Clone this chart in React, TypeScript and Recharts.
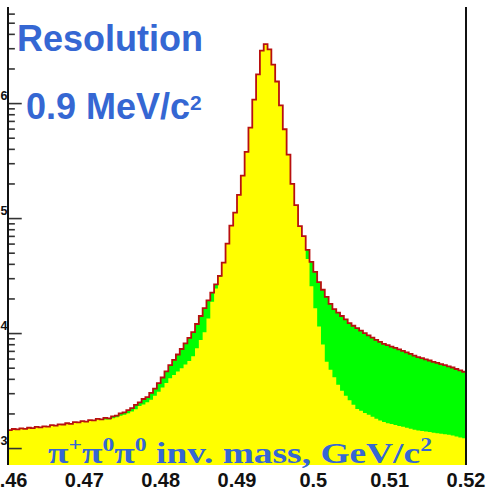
import React from 'react';
import { ComposedChart, Area, Line, XAxis, YAxis, ReferenceLine } from 'recharts';

// Histogram binning (GeV/c^2)
const BIN_START = 0.46;
const BIN_WIDTH = 0.0005;
const X_END = 0.52;

// log10(entries per bin): total (signal + background) — red outline, green fill
const totalLog10 = [
  3.160, 3.170, 3.166, 3.175, 3.172, 3.181, 3.178, 3.188, 3.184, 3.193,
  3.191, 3.203, 3.200, 3.211, 3.209, 3.220, 3.215, 3.229, 3.227, 3.238,
  3.235, 3.247, 3.245, 3.258, 3.254, 3.266, 3.263, 3.280, 3.287, 3.306,
  3.314, 3.335, 3.352, 3.380, 3.402, 3.431, 3.448, 3.485, 3.522, 3.569,
  3.618, 3.671, 3.725, 3.771, 3.818, 3.866, 3.914, 3.963, 4.013, 4.083,
  4.153, 4.221, 4.288, 4.356, 4.427, 4.502, 4.617, 4.783, 4.938, 5.051,
  5.207, 5.373, 5.580, 5.791, 6.035, 6.254, 6.461, 6.518, 6.472, 6.338,
  6.192, 5.985, 5.777, 5.557, 5.302, 5.117, 4.935, 4.847, 4.728, 4.623,
  4.536, 4.448, 4.381, 4.319, 4.258, 4.213, 4.183, 4.153, 4.123, 4.091,
  4.068, 4.047, 4.025, 4.004, 3.984, 3.965, 3.946, 3.928, 3.910, 3.899,
  3.887, 3.875, 3.863, 3.850, 3.837, 3.823, 3.809, 3.796, 3.786, 3.775,
  3.766, 3.754, 3.745, 3.735, 3.725, 3.715, 3.705, 3.692, 3.680, 3.668,
];

// log10(entries per bin): yellow component
const signalLog10 = [
  3.160, 3.170, 3.166, 3.175, 3.172, 3.181, 3.178, 3.188, 3.184, 3.193,
  3.191, 3.203, 3.200, 3.211, 3.209, 3.220, 3.215, 3.229, 3.227, 3.238,
  3.235, 3.247, 3.245, 3.258, 3.248, 3.253, 3.253, 3.264, 3.273, 3.286,
  3.295, 3.306, 3.323, 3.342, 3.370, 3.384, 3.402, 3.425, 3.459, 3.493,
  3.531, 3.570, 3.611, 3.640, 3.670, 3.699, 3.730, 3.762, 3.803, 3.873,
  3.943, 4.012, 4.130, 4.277, 4.392, 4.493, 4.617, 4.783, 4.938, 5.051,
  5.207, 5.373, 5.580, 5.791, 6.035, 6.254, 6.461, 6.518, 6.472, 6.338,
  6.192, 5.985, 5.777, 5.557, 5.302, 5.117, 4.935, 4.840, 4.648, 4.412,
  4.220, 4.062, 3.905, 3.756, 3.686, 3.621, 3.555, 3.503, 3.459, 3.420,
  3.380, 3.345, 3.328, 3.310, 3.293, 3.276, 3.260, 3.244, 3.230, 3.221,
  3.213, 3.205, 3.197, 3.189, 3.180, 3.172, 3.164, 3.158, 3.152, 3.148,
  3.143, 3.138, 3.134, 3.129, 3.124, 3.120, 3.113, 3.105, 3.097, 3.089,
];

const xTickValues = [0.46, 0.47, 0.48, 0.49, 0.5, 0.51, 0.52];
const xTickLabels = ['0.46', '0.47', '0.48', '0.49', '0.5', '0.51', '0.52'];
const yDecades = [3, 4, 5, 6];
const yDomain: [number, number] = [2.857, 6.84];

// tick-mark lengths expressed in x data units (inward from the left axis)
const MAJOR_TICK_LEN = 0.0018;
const MINOR_TICK_LEN = 0.0009;

const BLUE = '#3567d3';
const SANS = '"Liberation Sans", Arial, Helvetica, sans-serif';
const SERIF = '"Liberation Serif", "Times New Roman", Times, serif';

// chart data built from the arrays above
const binEdges = totalLog10.map((_, i) => +(BIN_START + i * BIN_WIDTH).toFixed(4));
const data = totalLog10.map((t, i) => ({ x: binEdges[i], total: t, signal: signalLog10[i] }));
data.push({
  x: X_END,
  total: totalLog10[totalLog10.length - 1],
  signal: signalLog10[signalLog10.length - 1],
});
const outlineData = [
  { x: BIN_START, v: yDomain[0] },
  ...data.map((d) => ({ x: d.x, v: d.total })),
  { x: X_END, v: yDomain[0] },
];

// log-axis tick positions: 2..9 sub-decade ticks above the histogram at the left edge
const yMinorTicks: number[] = [];
for (let e = 3; e <= 6; e++) {
  for (let k = 2; k <= 9; k++) {
    const v = e + Math.log10(k);
    if (v <= yDomain[1] && v > totalLog10[0]) yMinorTicks.push(+v.toFixed(5));
  }
}

const YLabel = (props: any) => {
  const x = Number(props.x);
  const y = Number(props.y);
  return (
    <text x={x - 0.5} y={y - 4} textAnchor="end" fontSize={12.5} fontWeight="bold" fill="#111" fontFamily={SANS}>
      {Math.round(Number(props.payload.value))}
    </text>
  );
};

const XTick = (props: any) => {
  const { x, y, payload } = props;
  const idx = xTickValues.findIndex((t) => Math.abs(t - payload.value) < 1e-9);
  return (
    <text x={x} y={Number(y) + 21.5} textAnchor="middle" fontSize={20} fontWeight="bold" fill="#111" fontFamily={SANS}>
      {idx >= 0 ? xTickLabels[idx] : ''}
    </text>
  );
};

export default function App() {
  return (
    <div style={{ position: 'absolute', left: 0, top: 0, width: 492, height: 495, background: '#fff' }}>
      <ComposedChart width={492} height={495} data={data} margin={{ top: 7, right: 0, bottom: 0, left: 0 }}>
        <XAxis
          dataKey="x"
          type="number"
          domain={[BIN_START, X_END]}
          allowDataOverflow
          ticks={xTickValues}
          interval={0}
          tick={<XTick />}
          tickLine={false}
          tickSize={0}
          tickMargin={0}
          axisLine={false}
          height={30}
        />
        <XAxis
          xAxisId="top"
          orientation="top"
          dataKey="x"
          type="number"
          domain={[BIN_START, X_END]}
          allowDataOverflow
          tick={false}
          tickLine={false}
          height={0}
          axisLine={{ stroke: '#111', strokeWidth: 2 }}
        />
        <YAxis
          yAxisId="right"
          orientation="right"
          type="number"
          domain={yDomain}
          allowDataOverflow
          tick={false}
          tickLine={false}
          width={26}
          axisLine={{ stroke: '#111', strokeWidth: 2 }}
        />
        <YAxis
          type="number"
          domain={yDomain}
          allowDataOverflow
          ticks={yDecades}
          interval={0}
          tick={<YLabel />}
          tickLine={false}
          tickSize={0}
          tickMargin={0}
          width={8}
          axisLine={{ stroke: '#111', strokeWidth: 2 }}
        />
        <Area
          dataKey="total"
          type="stepAfter"
          baseValue={yDomain[0]}
          fill="#00ff00"
          fillOpacity={1}
          stroke="none"
          isAnimationActive={false}
        />
        <Area
          dataKey="signal"
          type="stepAfter"
          baseValue={yDomain[0]}
          fill="#ffff00"
          fillOpacity={1}
          stroke="none"
          isAnimationActive={false}
        />
        <Line
          data={outlineData}
          dataKey="v"
          type="stepAfter"
          stroke="#b81010"
          strokeWidth={1.8}
          dot={false}
          activeDot={false}
          isAnimationActive={false}
        />
        {yDecades.map((v) => (
          <ReferenceLine
            key={`maj-${v}`}
            segment={[{ x: BIN_START, y: v }, { x: BIN_START + MAJOR_TICK_LEN, y: v }]}
            stroke="#333"
            strokeWidth={1.6}
            ifOverflow="visible"
          />
        ))}
        {yMinorTicks.map((v) => (
          <ReferenceLine
            key={`min-${v}`}
            segment={[{ x: BIN_START, y: v }, { x: BIN_START + MINOR_TICK_LEN, y: v }]}
            stroke="#333"
            strokeWidth={1.6}
            ifOverflow="visible"
          />
        ))}
      </ComposedChart>
      <svg
        width={492}
        height={495}
        style={{ position: 'absolute', left: 0, top: 0, pointerEvents: 'none' }}
      >
        <text x={17} y={51} fontSize={36} fontWeight="bold" fontFamily={SANS} fill={BLUE}>
          Resolution
        </text>
        <text x={26} y={119} fontSize={36} fontWeight="bold" fontFamily={SANS} fill={BLUE}>
          0.9 MeV/c<tspan fontSize={21} dy={-9}>2</tspan>
        </text>
        <text
          x={48}
          y={463}
          fontSize={30}
          fontWeight="bold"
          fontFamily={SERIF}
          fill={BLUE}
          textLength={384}
          lengthAdjust="spacingAndGlyphs"
        >
          π<tspan fontSize={19} dy={-12}>+</tspan>
          <tspan dy={12}>π</tspan>
          <tspan fontSize={19} dy={-12}>0</tspan>
          <tspan dy={12}>π</tspan>
          <tspan fontSize={19} dy={-12}>0</tspan>
          <tspan dy={12}> inv. mass, GeV/c</tspan>
          <tspan fontSize={19} dy={-12}>2</tspan>
        </text>
      </svg>
    </div>
  );
}
